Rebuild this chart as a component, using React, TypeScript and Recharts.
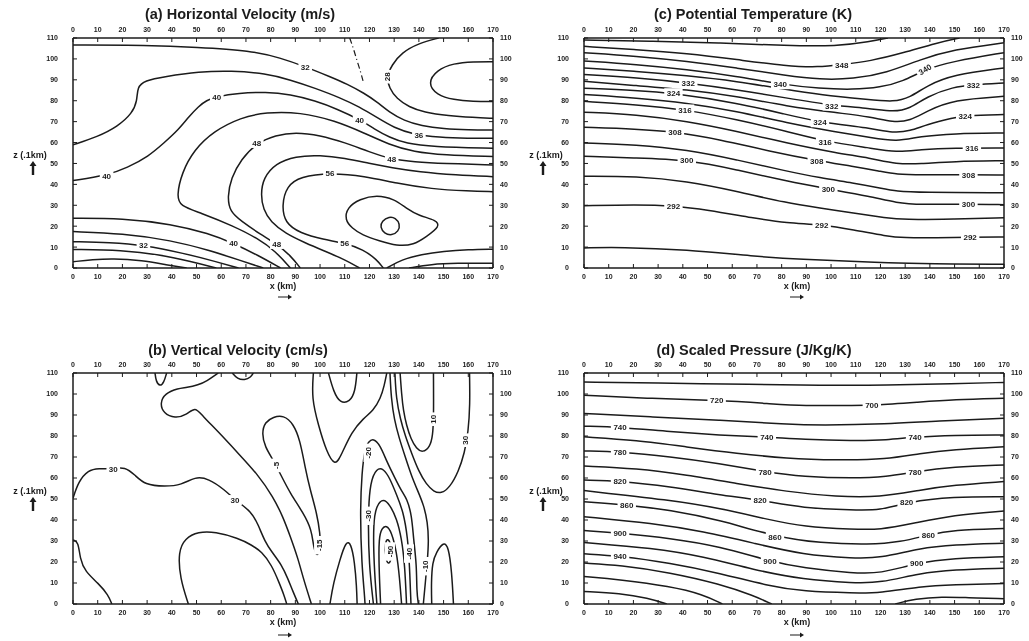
import { ComposedChart, Line, Scatter, XAxis, YAxis } from "recharts"

// axes shared by all four panels: x in km, z in 0.1 km
const xTicks = [0, 10, 20, 30, 40, 50, 60, 70, 80, 90, 100, 110, 120, 130, 140, 150, 160, 170]
const zTicks = [0, 10, 20, 30, 40, 50, 60, 70, 80, 90, 100, 110]

type Pt = [number, number]
type Lb = [number, number, string]

// (a) horizontal velocity, contour lines as [x, z]
const ha32 = [[0, 106.7], [30, 106.5], [50, 105.6], [72, 104], [84, 100.5], [94, 96.3], [104, 91.5], [111, 88], [118, 83.5], [123, 79.5], [128, 74.5], [134, 70.5], [141, 68], [150, 66.5], [160, 66], [170, 66]] as Pt[]
const ha28 = [[148, 110], [140, 107.5], [133, 103], [129, 97], [127, 91.5], [128, 86], [131, 81], [136, 77], [142, 74.5], [152, 72.8], [162, 72], [170, 71.6]] as Pt[]
const ha24 = [[170, 98.7], [162, 98.7], [154, 97.9], [147.2, 94.7], [143.5, 88.4], [147.2, 82.8], [154, 80.4], [162, 79.6], [170, 79.6]] as Pt[]
const haDash = [[112, 110], [113.5, 105], [115, 99], [116.5, 93.5], [117.5, 89]] as Pt[]
const ha36 = [[0, 58.9], [10, 62.8], [18, 67.6], [24, 74], [26, 80], [26, 86.5], [29, 89.6], [37, 91.5], [51, 93.9], [64, 94.4], [78, 93], [88, 90], [98, 86], [108, 81.5], [116, 77], [123, 72], [130, 67], [138, 63.8], [148, 62.5], [160, 62], [170, 62]] as Pt[]
const ha40 = [[0, 41.8], [13.6, 44.2], [22, 48], [30.5, 53.3], [37, 60], [42.6, 66], [47, 72.5], [50.7, 77.2], [54, 80.2], [58.2, 82], [67, 83.6], [78, 84.2], [88, 83], [98, 80], [107, 76], [116, 71], [122, 66.5], [128, 62.5], [135, 59.5], [145, 58], [170, 57.3]] as Pt[]
const ha44 = [[170, 53.3], [150, 54], [138, 55.5], [128, 59], [118, 64.5], [106, 70.5], [92, 74.5], [78, 74.5], [68, 72], [57, 65.5], [49, 56.5], [44, 45.5], [42, 34.5], [43.3, 29.7], [51.4, 26.5], [64.9, 20.1], [75, 14], [82, 8], [88, 0]] as Pt[]
const ha48 = [[170, 49.3], [150, 50], [138, 50.8], [129, 52], [120, 55.5], [110, 60], [100, 63.5], [90, 65], [82, 63.5], [74.4, 59.8], [68, 52], [64, 43], [62.5, 34], [63.5, 27], [68, 22.5], [76, 16], [82.5, 11.5], [88, 6], [92, 0]] as Pt[]
const ha52 = [[170, 43.7], [155, 44.5], [140, 46], [129, 48], [120, 50], [110, 52.5], [100, 54], [90, 53.5], [82, 50], [77, 43], [76, 35], [77, 28], [80, 22], [86, 16.5], [94, 12], [102, 8], [110, 4], [116, 0]] as Pt[]
const ha56 = [[170, 36.5], [160, 36.8], [145, 37.8], [131, 40.5], [118, 44], [104, 45.5], [92, 43.7], [86.5, 39.2], [84.5, 30], [85.8, 21.5], [91.9, 16.7], [101.3, 13.6], [110, 12], [117.5, 8.8], [123, 4], [125.6, 0]] as Pt[]
const ha60 = [[123, 35], [116, 33], [111, 29], [110, 23], [113, 19], [117, 15.8], [124, 13], [131, 10.5], [138, 11], [143, 15], [148.6, 19.8], [147, 23], [140, 25], [135, 28.5], [130, 33]] as Pt[]
const ha64 = [[128, 24.6], [125, 22.5], [124.3, 19.5], [126, 16.5], [129, 15.5], [131.8, 17.5], [132.4, 21], [130.5, 24]] as Pt[]
const haLow40 = [[0, 23.8], [20, 23.8], [40, 21], [55, 16.5], [65, 11.8], [75, 6], [84, 0]] as Pt[]
const haLow36 = [[0, 17.4], [20, 16.5], [40, 13.2], [55, 8.5], [68, 3.5], [77, 0]] as Pt[]
const haLow32 = [[0, 12.6], [15, 12.2], [28.5, 11], [45, 7], [58, 3], [67, 0]] as Pt[]
const haLow28 = [[0, 8.9], [20, 8.6], [35, 6.5], [48, 3], [58, 0]] as Pt[]
const haLow24 = [[0, 3], [8, 4], [16, 4.6], [28, 3.6], [38, 1.5], [46, 0]] as Pt[]
const haBR1 = [[127, 0], [133, 4], [141, 6.5], [150, 8], [160, 8.8], [170, 9]] as Pt[]
const haBR2 = [[136, 0], [145, 1.8], [155, 2.3], [170, 2.3]] as Pt[]
const haLabels = [[94, 96.3, "32"], [140, 63.5, "36"], [116, 71, "40"], [58.2, 82, "40"], [13.6, 44.2, "40"], [74.4, 59.8, "48"], [129, 52, "48"], [104, 45.5, "56"], [28.5, 11, "32"], [65, 11.8, "40"], [82.5, 11.5, "48"], [110, 12, "56"]] as Lb[]
const haUpLabels = [[127.2, 91.5, "28"]] as Lb[]

// (b) vertical velocity
const vv1 = [[0, 50.3], [2.2, 58.3], [6.2, 63.8], [10.3, 64.6], [16.3, 64.3], [21, 65.4], [25.1, 61.4], [29.1, 56.7], [37.2, 55.9], [44, 56.7], [49.4, 60.6], [54.8, 59.8], [61.5, 54.3], [65.6, 49.5], [72.3, 44], [75, 37.6], [77.7, 29.7], [80.4, 24.9], [84.5, 18.6], [87, 12], [89, 6], [91.2, 0]] as Pt[]
const vv2 = [[0, 30.5], [2.2, 29.7], [2.8, 21.7], [4.9, 15.4], [10.3, 9.8], [14.3, 4.3], [15.7, 0]] as Pt[]
const vv3 = [[46.7, 0], [43.3, 12.2], [42.6, 24.9], [45.3, 31.3], [50.7, 34.4], [57.5, 34.4], [66.9, 31.3], [72.3, 28.1], [76.4, 24.9], [80.4, 18.6], [83.5, 10], [85.5, 4], [86.5, 0]] as Pt[]
const vv4 = [[58.8, 110], [54, 106], [50.7, 104.3], [46, 103], [42.6, 102.7], [37.2, 100.3], [35.2, 95.6], [36.6, 90.8], [41.3, 88.4], [46, 90], [49.4, 94], [52.1, 90], [58.8, 82], [66.9, 71.7], [75, 61.4], [81, 51], [85, 41.5], [88, 32], [91, 22], [93.5, 11], [96.5, 0]] as Pt[]
const vvTop1 = [[33.2, 110], [33.6, 106], [35.2, 103.5], [36.8, 105.5], [37.9, 110]] as Pt[]
const vvTop2 = [[64.5, 110], [66.5, 107.2], [69.5, 106.6], [72, 108], [73, 110]] as Pt[]
const vv5 = [[81.1, 89.1], [85.2, 89.9], [89.2, 85.9], [91.9, 78], [93.9, 65.3], [96, 54.3], [98.7, 43.2], [100, 33.7], [100.3, 25.8], [98.7, 22.2], [97.3, 27.4], [96.6, 35.3], [93.3, 43.2], [87.9, 52.7], [83.8, 62.2], [81.1, 68.5], [77.7, 74.8], [76.4, 81.2], [77.7, 86.7]] as Pt[]
const vv6 = [[97.3, 110], [96.6, 98], [99.3, 85.2], [102.6, 72.5], [106.1, 65.4], [108.6, 71], [112.8, 82], [117.5, 88.4], [121.5, 92], [124.5, 98], [126, 104], [127, 110]] as Pt[]
const vv7 = [[103.4, 110], [105.5, 101], [108.1, 95.6], [112.1, 96.3], [114.2, 101.1], [114.9, 110]] as Pt[]
const vv8 = [[130.3, 110], [130.8, 98], [132.5, 88], [134.5, 80], [137, 72], [140, 63], [143, 57], [146, 53.5], [149, 52.5], [152.5, 55.5], [156, 63], [158.5, 72], [160, 82], [160.7, 95], [160.5, 110]] as Pt[]
const vv9 = [[132.4, 110], [133, 100], [133.7, 92.2], [135, 85], [136.8, 78.5], [139, 74], [141.5, 72], [144.5, 74.8], [145.6, 80], [146, 89], [145.9, 110]] as Pt[]
const vv10 = [[128.3, 110], [128.8, 98], [130, 88], [132, 79], [134.5, 70], [137, 61], [139.5, 54], [142, 47], [143.5, 39], [144, 30], [143.4, 20], [142.6, 10], [141.8, 0]] as Pt[]
const vvHillL = [[104, 0], [105.4, 10], [108, 21], [110.5, 30], [112.5, 29], [114, 20], [114.8, 8], [115, 0]] as Pt[]
const vvHillR = [[145.2, 0], [145, 10], [145.5, 20], [147, 24.5], [150, 29.7], [152, 27.3], [153.3, 15.4], [154, 0]] as Pt[]
const vvCore2 = [[118.2, 0], [118, 4.3], [116.9, 18.6], [116.2, 42.4], [116.9, 63], [118.2, 74.1], [119.6, 77.3], [121.6, 78.9], [124.3, 75.7], [127, 67.8], [130.4, 59.8], [133.1, 53.5], [135.1, 50.3], [137.1, 42.4], [137.8, 31.3], [139.1, 18.6], [139.1, 5.9], [139.8, 0]] as Pt[]
const vvCore3 = [[121.6, 0], [119.8, 18.6], [119.4, 42.4], [120.3, 58.3], [122.9, 64.6], [125.6, 64.6], [128.3, 59.8], [131, 51.9], [133.7, 44], [135.5, 31.3], [136.2, 18.6], [136.8, 0]] as Pt[]
const vvCore4 = [[123, 0], [121.8, 18.6], [121.5, 39.2], [122.9, 47.1], [125.6, 50.3], [128.3, 47.1], [131, 40.8], [133, 31.3], [134.3, 18.6], [135, 0]] as Pt[]
const vvCore5 = [[124.5, 0], [123.8, 18.6], [123.8, 31.3], [124.9, 36], [126.9, 37.6], [128.9, 34.4], [131, 24.9], [132.2, 12.2], [133, 0]] as Pt[]
const vvCore6 = [[126.3, 29.7], [127.6, 31.5], [128.9, 27.3], [128.9, 21], [127.6, 18.6], [126.5, 21.7]] as Pt[]
const vvLabels = [[16.3, 64.3, "30"], [65.6, 49.5, "30"]] as Lb[]
const vvUpLabels = [[82.2, 66, "-5"], [99.6, 28, "-15"], [119.6, 72, "-20"], [158.6, 78, "30"], [145.8, 88, "10"], [119.5, 42, "-30"], [128.3, 25, "-50"], [136, 24, "-40"], [142.5, 18, "-10"]] as Lb[]

// (c) potential temperature
const pt288 = [[0, 9.6], [14.6, 10], [41.6, 8.8], [68.6, 5.6], [88.8, 4], [109, 3.2], [122.5, 2.4], [140, 2], [170, 1.8]] as Pt[]
const pt292 = [[0, 29.8], [21.3, 30.3], [36.2, 29.8], [49.7, 27.9], [68.6, 23.9], [82, 21.5], [96.2, 20.7], [109, 18.3], [122.5, 15.2], [129.3, 14.4], [142.8, 14.4], [156.3, 14.8], [170, 14.8]] as Pt[]
const pt296 = [[0, 43.9], [21.3, 43.9], [41.6, 41.5], [61.8, 36.7], [82, 31.1], [95.5, 28.7], [109, 26.3], [122.5, 23.9], [129.3, 23.1], [149.5, 23.4], [170, 24]] as Pt[]
const pt300 = [[0, 53.4], [21.3, 52.6], [41.6, 51.8], [61.8, 47], [82, 41.5], [98.9, 37.8], [115.8, 34.3], [126.6, 31.1], [136, 30.3], [155.6, 30.6], [170, 30.3]] as Pt[]
const pt304 = [[0, 59.8], [21.3, 59], [41.6, 56.6], [61.8, 51.8], [82, 46.3], [95.5, 43.1], [109, 40.7], [119.8, 38.3], [126.6, 36.7], [136, 36.2], [170, 36]] as Pt[]
const pt308 = [[0, 67.3], [21.3, 66.5], [36.8, 65.2], [55, 61.4], [75.3, 55.8], [94.2, 51.4], [109, 48.6], [119.8, 46.3], [126.6, 44.7], [136, 44.5], [155.6, 44.6], [170, 44.5]] as Pt[]
const pt312 = [[0, 74.5], [21.3, 73.4], [41.6, 70.2], [61.8, 65.4], [82, 59.8], [102.3, 55], [115.8, 52.6], [126.6, 49.6], [136, 49.8], [149.5, 51], [170, 51.3]] as Pt[]
const pt316 = [[0, 79.7], [21.3, 78.1], [40.9, 75.8], [61.8, 71], [82, 65.4], [97.6, 60.5], [115.8, 57.4], [126.6, 55.3], [136, 56.6], [149.5, 57.4], [170, 57.4]] as Pt[]
const pt320 = [[0, 83], [21.3, 81.3], [41.6, 79], [61.8, 75], [82, 69.4], [102.3, 65], [115.8, 62.5], [126.6, 60.3], [136, 63], [149.5, 64.3], [170, 64.6]] as Pt[]
const pt324 = [[0, 86], [21.3, 85], [36.2, 83.6], [61.8, 79], [82, 73.4], [95.5, 69.7], [115.8, 67], [125.2, 64.5], [132, 65.5], [138.7, 68.6], [149.5, 71.8], [154.3, 72.9], [170, 73.4]] as Pt[]
const pt328 = [[0, 89.3], [21.3, 87.2], [41.6, 85.3], [61.8, 82.1], [82, 77.4], [102.3, 74.2], [115.8, 72.4], [125.2, 69.6], [132, 70.4], [138.7, 75], [149.5, 80.5], [170, 82.1]] as Pt[]
const pt332 = [[0, 92.5], [21.3, 91], [42.2, 88.5], [61.8, 85.3], [82, 81.3], [100.3, 77.7], [115.8, 76.4], [125.2, 74.6], [132, 76.2], [138.7, 82], [149.5, 86.6], [157.6, 87.7], [170, 88.5]] as Pt[]
const pt336 = [[0, 95.7], [21.3, 94.1], [41.6, 92], [61.8, 89.3], [82, 85.3], [95.5, 82.9], [115.8, 80.5], [125.2, 79.4], [132, 81.5], [138.7, 87.2], [149.5, 92.5], [170, 95.7]] as Pt[]
const pt340 = [[0, 99], [21.3, 97.3], [41.6, 94.9], [61.8, 91.7], [79.4, 87.9], [95.5, 85.8], [109, 85.3], [119.8, 86.3], [129.3, 89.3], [138, 95], [149.5, 98.9], [170, 103]] as Pt[]
const pt344 = [[0, 103], [21.3, 101.3], [41.6, 98.9], [61.8, 95.7], [82, 92], [95.5, 90.1], [109, 90.4], [122.5, 93.3], [136, 99.7], [149.5, 104.5], [170, 107.7]] as Pt[]
const pt348 = [[0, 106], [21.3, 104.5], [41.6, 102.6], [61.8, 99.7], [82, 96.6], [95, 96], [104.3, 97.3], [115.8, 98.9], [129.3, 102.9], [142.8, 107.7], [152, 110]] as Pt[]
const pt352 = [[0, 109], [28, 108.5], [55, 107.7], [82, 106.3], [102.3, 106], [115.8, 108.3], [123, 110]] as Pt[]
const ptLabels = [[36.2, 29.8, "292"], [41.6, 51.8, "300"], [36.8, 65.2, "308"], [40.9, 75.8, "316"], [36.2, 83.6, "324"], [42.2, 88.5, "332"], [79.4, 87.9, "340"], [104.3, 97.3, "348"], [100.3, 77.7, "332"], [95.5, 69.7, "324"], [97.6, 60.5, "316"], [94.2, 51.4, "308"], [98.9, 37.8, "300"], [96.2, 20.7, "292"], [157.6, 87.7, "332"], [154.3, 72.9, "324"], [157, 57.4, "316"], [155.6, 44.6, "308"], [155.6, 30.6, "300"], [156.3, 14.8, "292"]] as Lb[]
const ptSlantLabels = [[138, 95, "340"]] as Lb[]

// (d) scaled pressure
const sp680 = [[0, 105.7], [28, 105.2], [68.6, 104.6], [95.5, 104.1], [122.5, 104.1], [149.5, 105], [170, 105.5]] as Pt[]
const sp700 = [[0, 99.4], [28, 97.8], [53.7, 97], [75.3, 95.4], [88.8, 94.3], [109, 94.6], [116.5, 94.6], [136, 96.2], [149.5, 97.3], [170, 98]] as Pt[]
const sp720 = [[0, 90.7], [28, 89.1], [55, 87.5], [82, 85.6], [95.5, 85.1], [122.5, 85.6], [142.8, 87.2], [170, 88.4]] as Pt[]
const sp740 = [[0, 84.7], [14.6, 84.3], [34.8, 82], [55, 80.4], [74, 79.6], [88.8, 78.3], [109, 77.7], [122.5, 78], [134, 79.6], [149.5, 80.4], [170, 80.5]] as Pt[]
const sp760 = [[0, 79.6], [21.3, 78], [41.6, 74.8], [61.8, 71.7], [82, 69.3], [102.3, 68.5], [122.5, 68.8], [136, 71.7], [149.5, 73.6], [170, 74.9]] as Pt[]
const sp780 = [[0, 72.9], [14.6, 72.5], [34.8, 70.1], [55, 66.9], [73.3, 63], [88.8, 60.6], [109, 59.8], [122.5, 60.6], [134, 63], [149.5, 65.3], [170, 66.2]] as Pt[]
const sp800 = [[0, 65.7], [21.3, 64.6], [41.6, 61.4], [61.8, 57.4], [82, 53.5], [102.3, 51.1], [119.8, 50.8], [136, 54.3], [149.5, 56.6], [170, 58.3]] as Pt[]
const sp820 = [[0, 59], [14.6, 58.6], [34.8, 55.9], [55, 51.9], [71.3, 49.5], [88.8, 45.6], [109, 44.8], [119.8, 44.5], [130.6, 48.5], [149.5, 51.1], [170, 51.1]] as Pt[]
const sp840 = [[0, 54], [34.8, 49.5], [55, 45.6], [75.3, 40], [88.8, 36.9], [109, 35.6], [119.8, 35.3], [133.3, 38.4], [149.5, 42.4], [170, 44.3]] as Pt[]
const sp860 = [[0, 48.7], [17.3, 47.2], [34.8, 44.8], [55, 40], [77.3, 32.1], [95.5, 29], [115.8, 28.2], [128, 29.5], [139.4, 32.9], [149.5, 35.3], [170, 36]] as Pt[]
const sp880 = [[0, 41.6], [28, 38.4], [48.3, 34.5], [68.6, 29], [88.8, 23.4], [109, 21.8], [119.8, 21.8], [136, 26.6], [149.5, 28.2], [170, 28.9]] as Pt[]
const sp900 = [[0, 35], [14.6, 33.7], [34.8, 31.3], [55, 27.4], [75.3, 20.3], [88.8, 17.1], [109, 14.7], [119.8, 14.4], [134.7, 19.5], [149.5, 21.8], [170, 22.5]] as Pt[]
const sp920 = [[0, 29.3], [28, 26.6], [48.3, 22.6], [68.6, 16.3], [88.8, 11.6], [109, 10], [119.8, 10], [136, 14.7], [149.5, 16.3], [170, 17]] as Pt[]
const sp940 = [[0, 23.9], [14.6, 22.9], [34.8, 19.5], [55, 14.7], [75.3, 8.4], [88.8, 6], [109, 5.2], [119.8, 5.2], [136, 8.4], [149.5, 9.2], [170, 9.8]] as Pt[]
const sp960a = [[0, 19.5], [14.6, 18.5], [34.8, 15], [55, 9.5], [68.6, 4], [76, 0]] as Pt[]
const sp960b = [[126, 0], [134, 2.5], [145, 3.5], [155, 3], [170, 2.5]] as Pt[]
const sp980 = [[0, 13.1], [14.6, 11.6], [34.8, 8.4], [48.3, 4.5], [56, 0]] as Pt[]
const sp1000 = [[0, 6], [14.6, 5.2], [26, 2.8], [33.5, 0]] as Pt[]
const spLabels = [[14.6, 84.3, "740"], [14.6, 72.5, "780"], [14.6, 58.6, "820"], [17.3, 47.2, "860"], [14.6, 33.7, "900"], [14.6, 22.9, "940"], [53.7, 97, "720"], [74, 79.6, "740"], [73.3, 63, "780"], [71.3, 49.5, "820"], [77.3, 32.1, "860"], [75.3, 20.3, "900"], [116.5, 94.6, "700"], [134, 79.6, "740"], [134, 63, "780"], [130.6, 48.5, "820"], [139.4, 32.9, "860"], [134.7, 19.5, "900"]] as Lb[]

const INK = "#1b1b1b"
const FONT = "'Liberation Sans', Arial, sans-serif"

const pts = (a: Pt[]) => a.map(([x, z]) => ({ x, z }))
const lbl = (a: Lb[]) => a.map(([x, z, t]) => ({ x, z, t }))

function labelBox(cx: number, cy: number, t: string, rot: number) {
  const w = t.length * 4.8 + 4
  return (
    <g transform={`rotate(${rot} ${cx} ${cy})`}>
      <rect x={cx - w / 2} y={cy - 5} width={w} height={10} fill="#fff" />
      <text x={cx} y={cy + 3} textAnchor="middle" fontSize={8} fontWeight={700} fontFamily={FONT} fill={INK}>{t}</text>
    </g>
  )
}
const FlatLabel = (p: any) => labelBox(p.cx, p.cy, p.payload.t, 0)
const UpLabel = (p: any) => labelBox(p.cx, p.cy, p.payload.t, -90)
const SlantLabel = (p: any) => labelBox(p.cx, p.cy, p.payload.t, -32)

type PanelProps = {
  w: number
  h: number
  margin: { top: number; right: number; bottom: number; left: number }
  open: Pt[][]
  closed?: Pt[][]
  dashed?: Pt[][]
  labels?: Lb[]
  upLabels?: Lb[]
  slantLabels?: Lb[]
}

function Contours({ w, h, margin, open, closed = [], dashed = [], labels = [], upLabels = [], slantLabels = [] }: PanelProps) {
  const tick = { fontSize: 7, fill: INK, fontFamily: FONT, fontWeight: 700 }
  const axisLine = { stroke: INK, strokeWidth: 1.5 }
  return (
    <ComposedChart width={w} height={h} margin={margin}>
      <XAxis xAxisId="b" dataKey="x" type="number" domain={[0, 170]} ticks={xTicks} interval={0} allowDataOverflow
        height={20} tickSize={-4} tickMargin={10} axisLine={axisLine} tickLine={{ stroke: INK }} tick={tick} />
      <XAxis xAxisId="t" dataKey="x" type="number" orientation="top" domain={[0, 170]} ticks={xTicks} interval={0} allowDataOverflow
        height={20} tickSize={-4} tickMargin={10} axisLine={axisLine} tickLine={{ stroke: INK }} tick={tick} />
      <YAxis yAxisId="l" dataKey="z" type="number" domain={[0, 110]} ticks={zTicks} interval={0} allowDataOverflow
        width={40} tickSize={-4} tickMargin={19} axisLine={axisLine} tickLine={{ stroke: INK }} tick={tick} />
      <YAxis yAxisId="r" dataKey="z" type="number" orientation="right" domain={[0, 110]} ticks={zTicks} interval={0} allowDataOverflow
        width={20} tickSize={-4} tickMargin={11} axisLine={axisLine} tickLine={{ stroke: INK }} tick={tick} />
      <Line xAxisId="t" yAxisId="r" data={[{ x: 0, z: 0 }, { x: 170, z: 110 }]} dataKey="z" stroke="none" dot={false} isAnimationActive={false} />
      {open.map((d, i) => (
        <Line key={"o" + i} xAxisId="b" yAxisId="l" data={pts(d)} dataKey="z" type="basis" stroke={INK} strokeWidth={1.5}
          dot={false} activeDot={false} isAnimationActive={false} />
      ))}
      {closed.map((d, i) => (
        <Line key={"c" + i} xAxisId="b" yAxisId="l" data={pts(d)} dataKey="z" type="basisClosed" stroke={INK} strokeWidth={1.5}
          dot={false} activeDot={false} isAnimationActive={false} />
      ))}
      {dashed.map((d, i) => (
        <Line key={"d" + i} xAxisId="b" yAxisId="l" data={pts(d)} dataKey="z" type="basis" stroke={INK} strokeWidth={1.2}
          strokeDasharray="6 3 1 3" dot={false} activeDot={false} isAnimationActive={false} />
      ))}
      <Scatter xAxisId="b" yAxisId="l" data={lbl(labels)} dataKey="z" shape={FlatLabel} isAnimationActive={false} />
      <Scatter xAxisId="b" yAxisId="l" data={lbl(upLabels)} dataKey="z" shape={UpLabel} isAnimationActive={false} />
      <Scatter xAxisId="b" yAxisId="l" data={lbl(slantLabels)} dataKey="z" shape={SlantLabel} isAnimationActive={false} />
    </ComposedChart>
  )
}

function At({ x, y, size = 9, children }: { x: number; y: number; size?: number; children: any }) {
  return (
    <div style={{ position: "absolute", left: x, top: y, transform: "translate(-50%, -50%)", fontSize: size, fontWeight: 700, whiteSpace: "nowrap", lineHeight: 1 }}>
      {children}
    </div>
  )
}

function Box({ x, y, children }: { x: number; y: number; children: any }) {
  return <div style={{ position: "absolute", left: x, top: y }}>{children}</div>
}

// small drawn arrows under the axis titles
function UpArrow({ x, y }: { x: number; y: number }) {
  return (
    <svg style={{ position: "absolute", left: x - 5, top: y - 8 }} width={10} height={16}>
      <path d="M5 1 L8.5 6 L6.2 6 L6.2 15 L3.8 15 L3.8 6 L1.5 6 Z" fill={INK} />
    </svg>
  )
}
function RightArrow({ x, y }: { x: number; y: number }) {
  return (
    <svg style={{ position: "absolute", left: x - 8, top: y - 3 }} width={16} height={6}>
      <path d="M1 2.4 L11 2.4 L11 0.6 L15 3 L11 5.4 L11 3.6 L1 3.6 Z" fill={INK} />
    </svg>
  )
}

const leftMargin = (top: number, bottom: number) => ({ top, bottom, left: 33, right: 7 })
const rightMargin = (top: number, bottom: number) => ({ top, bottom, left: 24, right: 5 })

export default function App() {
  return (
    <div style={{ position: "absolute", left: 0, top: 0, width: 1029, height: 641, background: "#fff", color: INK, fontFamily: FONT, overflow: "hidden", filter: "grayscale(1)" }}>
      <Box x={0} y={0}>
        <Contours w={520} h={300} margin={leftMargin(18, 12)}
          open={[ha32, ha28, ha24, ha36, ha40, ha44, ha48, ha52, ha56, haLow40, haLow36, haLow32, haLow28, haLow24, haBR1, haBR2]}
          closed={[ha60, ha64]} dashed={[haDash]} labels={haLabels} upLabels={haUpLabels} />
      </Box>
      <Box x={520} y={0}>
        <Contours w={509} h={300} margin={rightMargin(18, 12)}
          open={[pt288, pt292, pt296, pt300, pt304, pt308, pt312, pt316, pt320, pt324, pt328, pt332, pt336, pt340, pt344, pt348, pt352]}
          labels={ptLabels} slantLabels={ptSlantLabels} />
      </Box>
      <Box x={0} y={300}>
        <Contours w={520} h={341} margin={leftMargin(53, 17)}
          open={[vv1, vv2, vv3, vv4, vvTop1, vvTop2, vv6, vv7, vv8, vv9, vv10, vvHillL, vvHillR, vvCore2, vvCore3, vvCore4, vvCore5]}
          closed={[vv5, vvCore6]} labels={vvLabels} upLabels={vvUpLabels} />
      </Box>
      <Box x={520} y={300}>
        <Contours w={509} h={341} margin={rightMargin(53, 17)}
          open={[sp680, sp700, sp720, sp740, sp760, sp780, sp800, sp820, sp840, sp860, sp880, sp900, sp920, sp940, sp960a, sp960b, sp980, sp1000]}
          labels={spLabels} />
      </Box>

      <At x={240} y={14} size={14.5}>(a) Horizontal Velocity (m/s)</At>
      <At x={753} y={14} size={14.5}>(c) Potential Temperature (K)</At>
      <At x={238} y={350} size={14.5}>(b) Vertical Velocity (cm/s)</At>
      <At x={754} y={350} size={14.5}>(d) Scaled Pressure (J/Kg/K)</At>

      <At x={30} y={155}>z (.1km)</At>
      <UpArrow x={33} y={168} />
      <At x={546} y={155}>z (.1km)</At>
      <UpArrow x={543} y={168} />
      <At x={30} y={491}>z (.1km)</At>
      <UpArrow x={33} y={504} />
      <At x={546} y={491}>z (.1km)</At>
      <UpArrow x={543} y={504} />

      <At x={283} y={286}>x (km)</At>
      <RightArrow x={285} y={297} />
      <At x={797} y={286}>x (km)</At>
      <RightArrow x={797} y={297} />
      <At x={283} y={622}>x (km)</At>
      <RightArrow x={285} y={635} />
      <At x={797} y={622}>x (km)</At>
      <RightArrow x={797} y={635} />
    </div>
  )
}
